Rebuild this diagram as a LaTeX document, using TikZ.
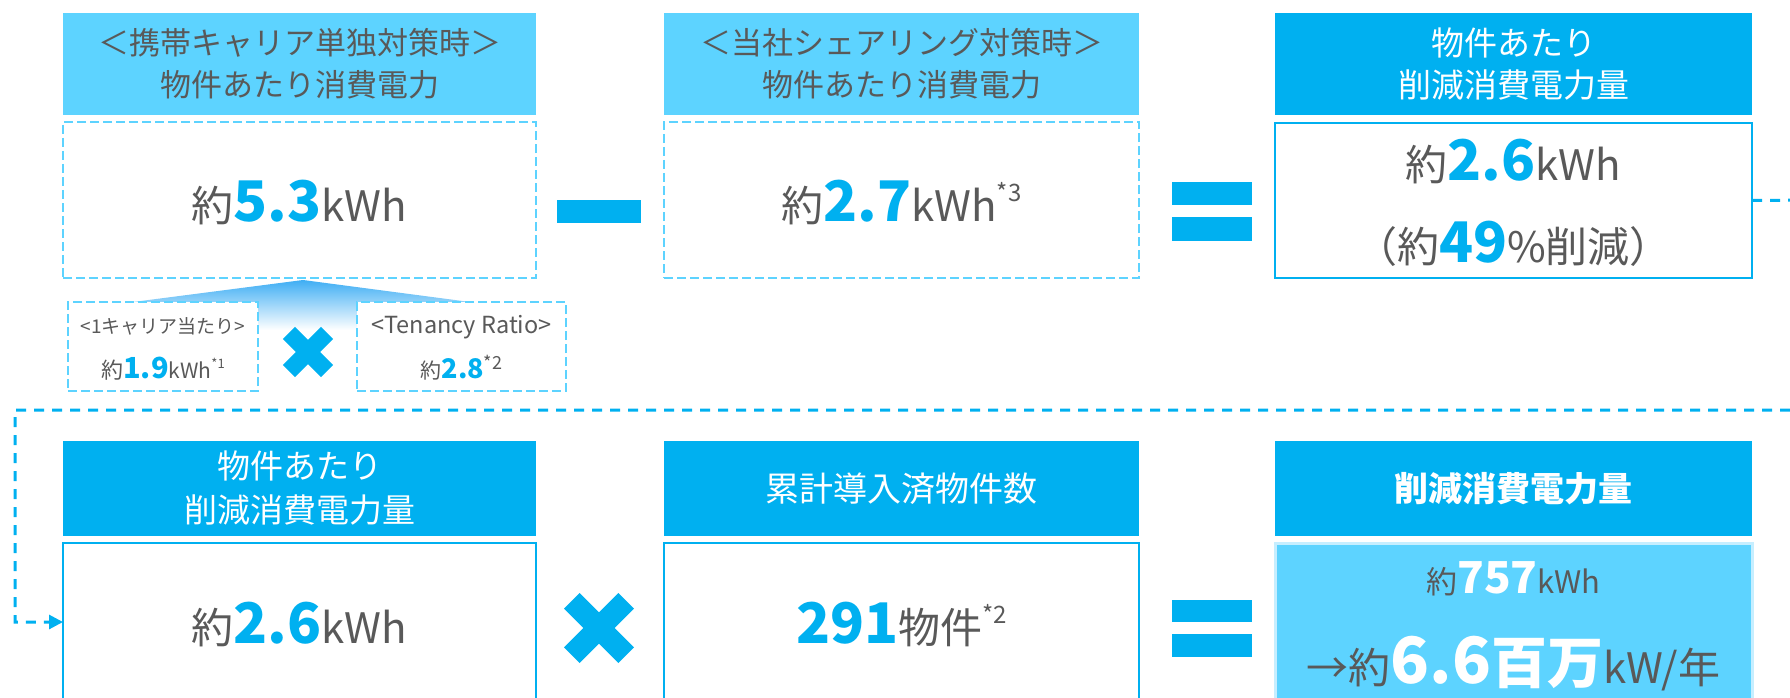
\documentclass[tikz,border=0pt]{standalone}
\usepackage{fontspec}
\setmainfont{Noto Sans CJK JP}
\usetikzlibrary{arrows.meta}
\definecolor{lblue}{HTML}{5DD3FF}
\definecolor{dblue}{HTML}{00B0F0}
\definecolor{tgrey}{HTML}{595959}
\definecolor{gradtop}{HTML}{3FAEF4}
\definecolor{gradmid}{HTML}{B5E0FB}
\definecolor{bsixline}{HTML}{C6EEFF}
\newcommand\myfs[1]{\fontsize{#1}{#1}\selectfont}
\newcommand\myfsb[2]{\fontsize{#1}{#2}\selectfont}
\newcommand\bnum[2]{{\color{dblue}\bfseries\myfs{#1}#2}}
\newcommand\wnum[2]{{\color{white}\bfseries\myfs{#1}#2}}
\begin{document}
\begin{tikzpicture}[x=1pt,y=-1pt,
  hlight/.style={fill=lblue, draw=none, inner sep=0pt, outer sep=0pt, text=tgrey, align=center},
  hdark/.style={fill=dblue, draw=none, inner sep=0pt, outer sep=0pt, text=white, align=center},
  dbox/.style={draw=lblue, line width=2.5pt, dash pattern=on 9pt off 4pt, fill=white, inner sep=0pt, outer sep=0pt},
  sbox/.style={draw=dblue, line width=2.5pt, fill=white, inner sep=0pt, outer sep=0pt},
  txt/.style={anchor=base, text=tgrey, inner sep=0pt},
  conn/.style={draw=dblue, line width=3pt, dash pattern=on 10pt off 8pt},
  sym/.style={fill=dblue}
]
\useasboundingbox (0,0) rectangle (1790,698);
\clip (0,0) rectangle (1790,698);

% gradient under body 1
\shade[top color=gradtop, middle color=gradmid, bottom color=white]
  (303,280) -- (470,302) -- (470,330) -- (133,330) -- (133,302) -- cycle;

% ---------- Row 1 ----------
\node[hlight, minimum width=473pt, minimum height=102pt, font=\myfsb{31}{42}] (h1) at (299.5,64)
  {＜携帯キャリア単独対策時＞\\物件あたり消費電力};
\node[dbox, minimum width=473pt, minimum height=156pt] (b1) at (299.5,200) {};
\node[txt, font=\myfs{42}] (t1) at (299.5,221) {約\bnum{56}{5.3}kWh};

\node[hlight, minimum width=475pt, minimum height=102pt, font=\myfsb{31}{42}] (h2) at (901.5,64)
  {＜当社シェアリング対策時＞\\物件あたり消費電力};
\node[dbox, minimum width=475pt, minimum height=156pt] (b2) at (901.5,200) {};
\node[txt, font=\myfs{42}] (t2) at (901.5,221) {約\bnum{56}{2.7}kWh\raisebox{20pt}{\myfs{24}*3}};

\node[hdark, minimum width=477pt, minimum height=102pt, font=\myfsb{33}{42}] (h3) at (1513.5,64)
  {物件あたり\\削減消費電力量};
\node[sbox, minimum width=477pt, minimum height=155pt] (b3) at (1513.5,200.5) {};
\node[txt, font=\myfs{42}] (t3a) at (1513.5,180) {約\bnum{56}{2.6}kWh};
\node[txt, font=\myfs{42}] (t3b) at (1513.5,262) {（約\bnum{56}{49}\%削減）};

% minus and equals
\fill[sym] (557,200) rectangle (641,223);
\fill[sym] (1172,182) rectangle (1252,205);
\fill[sym] (1172,217) rectangle (1252,241);

% small boxes
\node[dbox, minimum width=190pt, minimum height=89pt] (sl) at (163,346.5) {};
\node[txt, font=\myfs{19}] (sl1) at (163,333) {<1キャリア当たり>};
\node[txt, font=\myfs{22}] (sl2) at (163,378) {約\bnum{29}{1.9}{\myfs{21}kWh}\raisebox{10pt}{\myfs{13}*1}};
\node[dbox, minimum width=209pt, minimum height=89pt] (sr) at (461.5,346.5) {};
\node[txt, font=\myfs{23.5}] (sr1) at (461.5,333) {<Tenancy Ratio>};
\node[txt, font=\myfs{21}] (sr2) at (461.5,378) {約\bnum{27}{2.8}\raisebox{9pt}{\myfs{18}*2}};
\fill[sym, shift={(308,352)}, rotate=45] (-27,-8.5) rectangle (27,8.5);
\fill[sym, shift={(308,352)}, rotate=-45] (-27,-8.5) rectangle (27,8.5);

% ---------- Row 2 ----------
\node[hdark, minimum width=473pt, minimum height=95pt, font=\myfsb{33}{44}] (h4) at (299.5,488.5)
  {物件あたり\\削減消費電力量};
\node[sbox, minimum width=473pt, minimum height=217pt] (b4) at (299.5,651.5) {};
\node[txt, font=\myfs{42}] (t4) at (299.5,643) {約\bnum{56}{2.6}kWh};

\node[hdark, minimum width=475pt, minimum height=95pt, font=\myfs{34}] (h5) at (901.5,488.5)
  {累計導入済物件数};
\node[sbox, minimum width=475pt, minimum height=217pt] (b5) at (901.5,651.5) {};
\node[txt, font=\myfs{42}] (t5) at (901.5,643) {\bnum{56}{291}物件\raisebox{20pt}{\myfs{24}*2}};

\node[hdark, minimum width=477pt, minimum height=95pt, font=\bfseries\myfs{34}] (h6) at (1513.5,488.5)
  {削減消費電力量};
\node[fill=lblue, draw=bsixline, line width=3pt, inner sep=0pt, outer sep=0pt,
  minimum width=477pt, minimum height=217pt] (b6) at (1513.5,651.5) {};
\node[txt] (t6a) at (1513.5,593) {{\myfs{31}約}\wnum{44}{757}{\myfs{31}kWh}};
\node[txt] (t6b) at (1513.5,683) {{\myfs{42}→約}\wnum{64}{6.6}\wnum{56}{百万}{\myfs{42}kW/年}};

\fill[sym, shift={(599,628)}, rotate=45] (-38.5,-11) rectangle (38.5,11);
\fill[sym, shift={(599,628)}, rotate=-45] (-38.5,-11) rectangle (38.5,11);
\fill[sym] (1172,600) rectangle (1252,622);
\fill[sym] (1172,634) rectangle (1252,657);

% connector
\coordinate (c1) at (1810,200);
\coordinate (c2) at (1810,410);
\coordinate (c3) at (15,410);
\coordinate (c4) at (15,622);
\draw[conn, -{Triangle[length=14pt,width=14pt]}] (b3.east) -- (c1) -- (c2) -- (c3) -- (c4) -- (b4.west |- c4);
\end{tikzpicture}
\end{document}
